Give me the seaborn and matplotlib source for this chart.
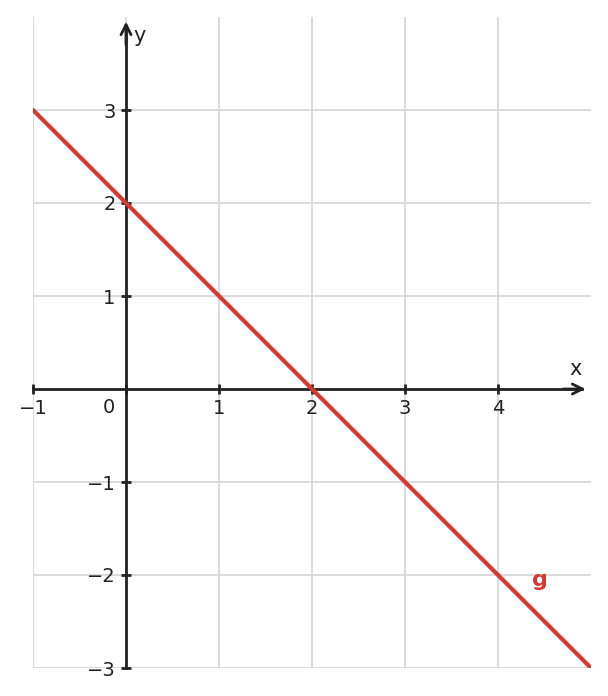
import numpy as np
import pandas as pd
import seaborn as sns
import matplotlib.pyplot as plt

sns.set_style("whitegrid")
plt.rcParams["font.family"] = ["DejaVu Sans"]

# data: g(x) = 2 - x, sampled at the two ends
line_x = [-1, 5]
line_y = [3, -3]
x_ticks = [-1, 0, 1, 2, 3, 4]
x_labels = ["\u22121", "", "1", "2", "3", "4"]
y_ticks = [-3, -2, -1, 1, 2, 3]
y_labels = ["\u22123", "\u22122", "\u22121", "1", "2", "3"]

axis_col = "#222222"
red = "#d33a31"

fig = plt.figure(figsize=(6.08, 6.96), dpi=100)
ax = fig.add_axes([33 / 608, 28 / 696, 558 / 608, 651 / 696])

df = pd.DataFrame({"x": line_x, "y": line_y})
sns.lineplot(data=df, x="x", y="y", ax=ax, color=red, linewidth=3, zorder=3)

ax.set_xlim(-1, 5)
ax.set_ylim(-3, 4)
ax.set_xlabel("")
ax.set_ylabel("")

ax.set_xticks(x_ticks)
ax.set_xticklabels(x_labels)
ax.set_yticks(y_ticks)
ax.set_yticklabels(y_labels)
ax.grid(True, color="#d4d4d4", linewidth=1.2)
ax.set_axisbelow(True)

for side in ["top", "right"]:
    ax.spines[side].set_visible(False)
ax.spines["left"].set_position(("data", 0))
ax.spines["bottom"].set_position(("data", 0))
ax.spines["bottom"].set_bounds(-1, 4.9)
ax.spines["left"].set_bounds(-3, 3.9)
for side in ["left", "bottom"]:
    ax.spines[side].set_color(axis_col)
    ax.spines[side].set_linewidth(2)
    ax.spines[side].set_zorder(2)

ax.tick_params(axis="both", direction="inout", length=7, width=2,
               bottom=True, left=True,
               color=axis_col, labelcolor=axis_col, labelsize=14)
ax.tick_params(axis="x", pad=4)
ax.tick_params(axis="y", pad=4)

# arrow heads
ax.annotate("", xy=(4.94, 0), xytext=(4.7, 0),
            arrowprops=dict(arrowstyle="->", color=axis_col, lw=2,
                            mutation_scale=18, shrinkA=0, shrinkB=0))
ax.annotate("", xy=(0, 3.95), xytext=(0, 3.7),
            arrowprops=dict(arrowstyle="->", color=axis_col, lw=2,
                            mutation_scale=18, shrinkA=0, shrinkB=0))

ax.text(-0.18, -0.2, "0", ha="center", va="center", fontsize=14, color=axis_col)
ax.text(4.83, 0.21, "x", ha="center", va="center", fontsize=15, color=axis_col)
ax.text(0.15, 3.8, "y", ha="center", va="center", fontsize=15, color=axis_col)
ax.text(4.45, -2.05, "g", ha="center", va="center", fontsize=16,
        fontweight="bold", color=red)

fig.savefig("out.png", dpi=100)
